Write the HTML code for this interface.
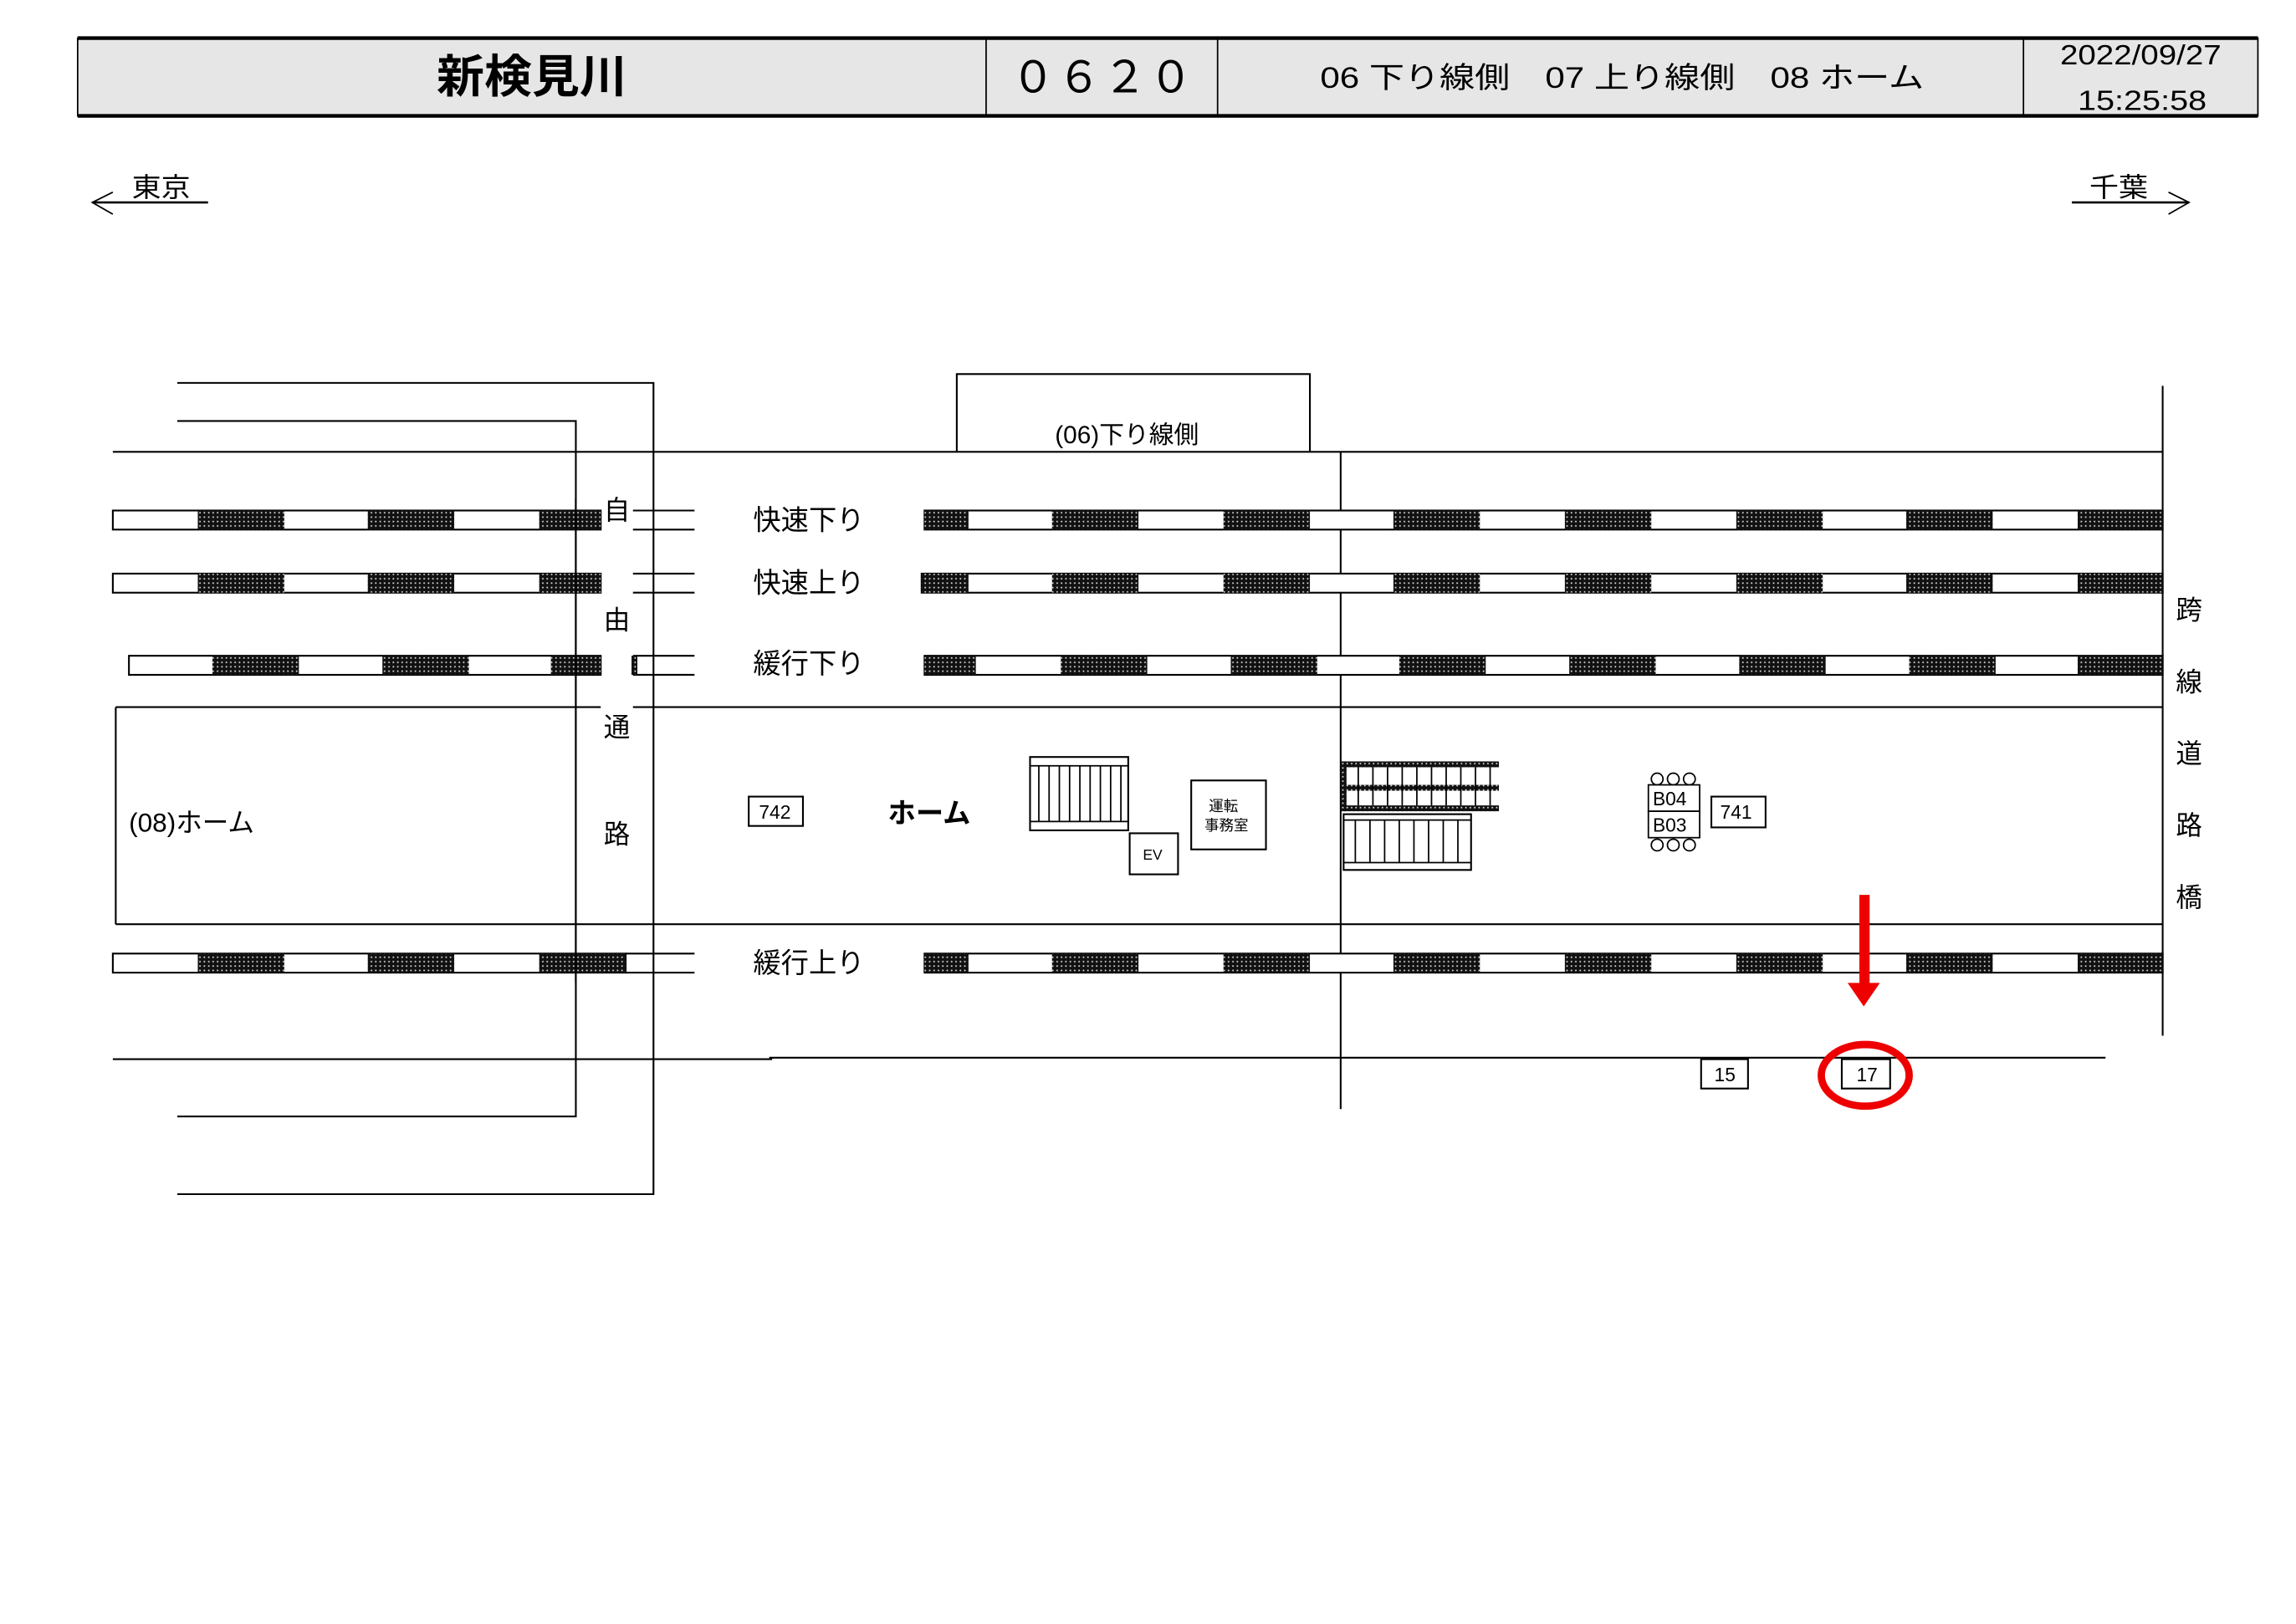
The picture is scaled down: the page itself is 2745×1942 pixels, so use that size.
<!DOCTYPE html>
<html><head><meta charset="utf-8"><style>
html,body{margin:0;padding:0;background:#fff;}
svg{display:block;}
text{font-family:"Liberation Sans","Noto Sans CJK JP",sans-serif;fill:#000;}
</style></head><body>
<svg width="2745" height="1942" viewBox="0 0 1567 1107" preserveAspectRatio="none" xmlns="http://www.w3.org/2000/svg">
<defs>
<pattern id="h" width="3" height="3" patternUnits="userSpaceOnUse">
<rect width="3" height="3" fill="#111"/><rect x="1" y="1" width="1" height="1" fill="#ddd"/>
</pattern>
</defs>
<rect x="53" y="26" width="1488" height="53" fill="#e6e6e6" stroke="#000" stroke-width="1"/>
<line x1="53" y1="26" x2="1541" y2="26" stroke="#000" stroke-width="2.5"/>
<line x1="53" y1="79" x2="1541" y2="79" stroke="#000" stroke-width="2.5"/>
<line x1="673" y1="26" x2="673" y2="79" stroke="#000"/>
<line x1="831" y1="26" x2="831" y2="79" stroke="#000"/>
<line x1="1381" y1="26" x2="1381" y2="79" stroke="#000"/>
<text x="298" y="63" font-size="31" font-weight="bold" textLength="130" lengthAdjust="spacingAndGlyphs">新検見川</text>
<text x="690" y="63" font-size="30" textLength="124" lengthAdjust="spacing">０６２０</text>
<text x="901" y="60" font-size="20" textLength="412" lengthAdjust="spacingAndGlyphs">06 下り線側　07 上り線側　08 ホーム</text>
<text x="1406" y="44" font-size="19" textLength="110" lengthAdjust="spacingAndGlyphs">2022/09/27</text>
<text x="1418" y="75" font-size="19" textLength="88" lengthAdjust="spacingAndGlyphs">15:25:58</text>
<text x="90" y="134" font-size="18" textLength="40" lengthAdjust="spacingAndGlyphs">東京</text>
<polyline points="77,131 63,138 77,146" fill="none" stroke="#000"/>
<line x1="63" y1="138" x2="142" y2="138" stroke="#000" stroke-width="1.5"/>
<text x="1426" y="134" font-size="18" textLength="40" lengthAdjust="spacingAndGlyphs">千葉</text>
<polyline points="1480,131 1494,138 1480,146" fill="none" stroke="#000"/>
<line x1="1414" y1="138" x2="1494" y2="138" stroke="#000" stroke-width="1.5"/>

<g stroke="#000" stroke-width="1.2" fill="none">
<polyline points="121,261 446,261 446,814 121,814"/>
<polyline points="121,287 393,287 393,761 121,761"/>
<line x1="77" y1="308" x2="1476" y2="308"/>
<polyline points="653,308 653,255 894,255 894,308"/>
<line x1="915" y1="308" x2="915" y2="756"/>
<line x1="1476" y1="263" x2="1476" y2="706"/>
<line x1="79" y1="482" x2="410" y2="482"/>
<line x1="432" y1="482" x2="1476" y2="482"/>
<line x1="79" y1="482" x2="79" y2="630"/>
<line x1="79" y1="630" x2="1476" y2="630"/>
<line x1="77" y1="722" x2="527" y2="722"/>
<line x1="525" y1="721" x2="1437" y2="721"/>
<line x1="432" y1="348" x2="474" y2="348"/><line x1="432" y1="361" x2="474" y2="361"/>
<line x1="432" y1="391" x2="474" y2="391"/><line x1="432" y1="404" x2="474" y2="404"/>
<line x1="432" y1="447" x2="474" y2="447"/><line x1="432" y1="460" x2="474" y2="460"/>
<line x1="427" y1="650" x2="474" y2="650"/><line x1="427" y1="663" x2="474" y2="663"/>
</g>

<g stroke="#000" stroke-width="1.2" fill="#fff">
<rect x="77" y="348" width="333" height="13"/><rect x="631" y="348" width="845" height="13"/>
<rect x="77" y="391" width="333" height="13"/><rect x="629" y="391" width="847" height="13"/>
<rect x="88" y="447" width="322" height="13"/><rect x="631" y="447" width="845" height="13"/>
<rect x="77" y="650" width="350" height="13"/><rect x="631" y="650" width="845" height="13"/>
</g>
<g fill="url(#h)">
<rect x="135" y="348" width="59" height="13"/><rect x="251" y="348" width="59" height="13"/><rect x="368" y="348" width="42" height="13"/>
<rect x="631" y="348" width="30" height="13"/><rect x="718" y="348" width="59" height="13"/><rect x="835" y="348" width="59" height="13"/><rect x="951" y="348" width="59" height="13"/><rect x="1068" y="348" width="59" height="13"/><rect x="1185" y="348" width="59" height="13"/><rect x="1301" y="348" width="59" height="13"/><rect x="1418" y="348" width="58" height="13"/>
<rect x="135" y="391" width="59" height="13"/><rect x="251" y="391" width="59" height="13"/><rect x="368" y="391" width="42" height="13"/>
<rect x="629" y="391" width="32" height="13"/><rect x="718" y="391" width="59" height="13"/><rect x="835" y="391" width="59" height="13"/><rect x="951" y="391" width="59" height="13"/><rect x="1068" y="391" width="59" height="13"/><rect x="1185" y="391" width="59" height="13"/><rect x="1301" y="391" width="59" height="13"/><rect x="1418" y="391" width="58" height="13"/>
<rect x="145" y="447" width="59" height="13"/><rect x="261" y="447" width="59" height="13"/><rect x="376" y="447" width="34" height="13"/><rect x="431" y="447" width="4" height="13"/>
<rect x="631" y="447" width="35" height="13"/><rect x="724" y="447" width="59" height="13"/><rect x="840" y="447" width="59" height="13"/><rect x="955" y="447" width="59" height="13"/><rect x="1071" y="447" width="59" height="13"/><rect x="1187" y="447" width="59" height="13"/><rect x="1303" y="447" width="59" height="13"/><rect x="1418" y="447" width="58" height="13"/>
<rect x="135" y="650" width="59" height="13"/><rect x="251" y="650" width="59" height="13"/><rect x="368" y="650" width="59" height="13"/>
<rect x="631" y="650" width="30" height="13"/><rect x="718" y="650" width="59" height="13"/><rect x="835" y="650" width="59" height="13"/><rect x="951" y="650" width="59" height="13"/><rect x="1068" y="650" width="59" height="13"/><rect x="1185" y="650" width="59" height="13"/><rect x="1301" y="650" width="59" height="13"/><rect x="1418" y="650" width="58" height="13"/>
</g>
<line x1="393" y1="340" x2="393" y2="670" stroke="#000" stroke-width="1.2"/>

<g font-size="19">
<text x="514" y="361">快速下り</text>
<text x="514" y="404">快速上り</text>
<text x="514" y="459">緩行下り</text>
<text x="514" y="663">緩行上り</text>
</g>
<g font-size="18" text-anchor="middle">
<text x="421" y="354">自</text><text x="421" y="429">由</text><text x="421" y="502">通</text><text x="421" y="575">路</text>
<text x="1494" y="422">跨</text><text x="1494" y="471">線</text><text x="1494" y="520">道</text><text x="1494" y="569">路</text><text x="1494" y="618">橋</text>
</g>
<text x="88" y="567" font-size="18">(08)ホーム</text>
<text x="606" y="561" font-size="19" font-weight="bold">ホーム</text>
<text x="720" y="302" font-size="17">(06)下り線側</text>

<g stroke="#000" fill="#fff" stroke-width="1.2">
<rect x="511" y="543" width="37" height="20"/>
<rect x="703" y="516" width="67" height="50"/>
<rect x="771" y="568" width="33" height="28"/>
<rect x="813" y="532" width="51" height="47"/>
<rect x="1168" y="543" width="37" height="21"/>
<rect x="1161" y="722" width="32" height="20"/>
<rect x="1257" y="722" width="33" height="20"/>
</g>
<g stroke="#000" stroke-width="1">
<line x1="703" y1="522" x2="770" y2="522"/><line x1="703" y1="560" x2="770" y2="560"/>
<line x1="709" y1="522" x2="709" y2="560"/><line x1="716" y1="522" x2="716" y2="560"/><line x1="723" y1="522" x2="723" y2="560"/><line x1="730" y1="522" x2="730" y2="560"/><line x1="737" y1="522" x2="737" y2="560"/><line x1="744" y1="522" x2="744" y2="560"/><line x1="751" y1="522" x2="751" y2="560"/><line x1="758" y1="522" x2="758" y2="560"/><line x1="765" y1="522" x2="765" y2="560"/>
</g>
<rect x="915" y="519" width="108" height="4" fill="url(#h)"/>
<rect x="915" y="535" width="108" height="4" fill="url(#h)"/>
<rect x="915" y="549" width="108" height="4" fill="url(#h)"/>
<rect x="915" y="519" width="4" height="34" fill="url(#h)"/>
<g stroke="#000" stroke-width="1">
<line x1="927" y1="523" x2="927" y2="549"/><line x1="937" y1="523" x2="937" y2="549"/><line x1="947" y1="523" x2="947" y2="549"/><line x1="957" y1="523" x2="957" y2="549"/><line x1="967" y1="523" x2="967" y2="549"/><line x1="977" y1="523" x2="977" y2="549"/><line x1="987" y1="523" x2="987" y2="549"/><line x1="997" y1="523" x2="997" y2="549"/><line x1="1007" y1="523" x2="1007" y2="549"/><line x1="1017" y1="523" x2="1017" y2="549"/>
</g>
<rect x="917" y="555" width="87" height="38" fill="#fff" stroke="#000" stroke-width="1.2"/>
<g stroke="#000" stroke-width="1">
<line x1="917" y1="559" x2="1004" y2="559"/><line x1="917" y1="588" x2="1004" y2="588"/>
<line x1="925" y1="559" x2="925" y2="588"/><line x1="935" y1="559" x2="935" y2="588"/><line x1="945" y1="559" x2="945" y2="588"/><line x1="955" y1="559" x2="955" y2="588"/><line x1="965" y1="559" x2="965" y2="588"/><line x1="975" y1="559" x2="975" y2="588"/><line x1="985" y1="559" x2="985" y2="588"/><line x1="995" y1="559" x2="995" y2="588"/>
</g>
<g stroke="#000" fill="#fff" stroke-width="1">
<circle cx="1131" cy="531" r="4"/><circle cx="1142" cy="531" r="4"/><circle cx="1153" cy="531" r="4"/>
<circle cx="1131" cy="576" r="4"/><circle cx="1142" cy="576" r="4"/><circle cx="1153" cy="576" r="4"/>
<rect x="1125" y="535" width="35" height="18"/><rect x="1125" y="553" width="35" height="18"/>
</g>
<g font-size="13">
<text x="1128" y="549">B04</text><text x="1128" y="567">B03</text>
<text x="1174" y="558">741</text>
<text x="518" y="558">742</text>
<text x="1170" y="737">15</text>
<text x="1267" y="737">17</text>
</g>
<text x="780" y="586" font-size="10">EV</text>
<text x="825" y="553" font-size="10">運転</text>
<text x="822" y="566" font-size="10">事務室</text>

<rect x="1269" y="610" width="7" height="62" fill="#e00"/>
<polygon points="1261,670 1283,670 1272,686" fill="#e00"/>
<ellipse cx="1273" cy="733" rx="30" ry="21" fill="none" stroke="#e00" stroke-width="5"/>
</svg>
</body></html>
